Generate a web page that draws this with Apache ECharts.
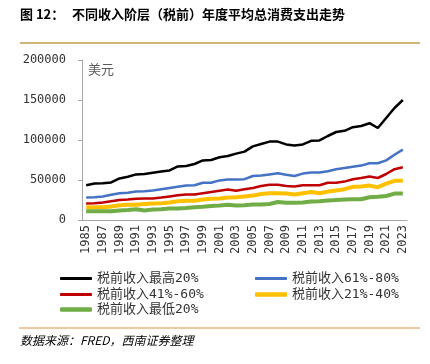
<!DOCTYPE html>
<html><head><meta charset="utf-8">
<script src="https://cdn.jsdelivr.net/npm/echarts@6/dist/echarts.min.js"></script>
<style>html,body{margin:0;padding:0;background:#fff}#c{width:430px;height:364px}</style>
</head><body><div id="c"></div>
<script>
const years = [];
for (let y = 1985; y <= 2023; y++) years.push(String(y));
const top20 = [43500,45500,46000,47000,52000,54000,57000,57500,59000,60500,62000,67000,67500,70000,74500,75000,78500,80000,83000,85500,92000,95000,98000,98000,94500,93000,94500,99000,99500,105000,110000,111500,116000,117500,121000,115000,127500,140000,150000];
const q61_80 = [28000,28500,29500,31500,33500,34000,35500,36000,37000,38500,40000,41500,43000,43500,46500,46500,49500,50500,50500,51000,55000,55500,57000,58500,56500,55000,58000,59500,59500,61000,63500,65000,66500,68000,71000,71000,74500,81500,88000];
const q41_60 = [20500,21000,22000,23500,25000,25500,26500,27000,27000,28000,29500,31000,32000,32000,33500,35000,36500,38000,36500,38500,40000,42500,44000,44000,42500,42000,43500,43500,43500,46500,46500,48000,51000,52500,54500,52500,57500,63500,66000];
const q21_40 = [15500,16000,16000,17000,18500,19000,19000,20000,20500,21000,22000,23500,24000,24000,25500,26500,27000,28000,28500,29500,30500,32500,33500,33500,33000,32000,33500,35000,33500,35500,37000,38500,41500,42000,43000,41000,45500,49000,49000];
const low20 = [11000,11000,11000,11000,12000,12500,13500,12000,13000,13500,14500,14500,15000,16000,16500,17500,18000,19000,18000,18500,19500,19500,20000,22500,21500,21500,22000,23000,23500,24500,25000,25500,26000,26000,28500,29000,30000,33000,33000];
const seriesNames = ['税前收入最高20%','税前收入61%-80%','税前收入41%-60%','税前收入21%-40%','税前收入最低20%'];
const seriesData = [top20, q61_80, q41_60, q21_40, low20];
const colors = ['#000000','#4472C4','#C00000','#FFC000','#70AD47'];
const widths = [2.5,2.5,2.5,4,4];

const mono = '"DejaVu Sans Mono", "Noto Sans CJK SC", monospace';
const chart = echarts.init(document.getElementById('c'), null, {renderer:'canvas'});
const legendPos = [[55,267],[250,267],[55,283],[250,283],[55,298]];
chart.setOption({
  animation:false,
  backgroundColor:'#fff',
  graphic:[
    {type:'text', left:20, top:8, style:{text:'图 12：', font:'bold 13px "Noto Sans CJK SC"', fill:'#000'}},
    {type:'text', left:72, top:8, style:{text:'不同收入阶层（税前）年度平均总消费支出走势', font:'bold 13px "Noto Sans CJK SC"', fill:'#000'}},
    {type:'line', shape:{x1:20,y1:43,x2:420,y2:43}, style:{stroke:'#D2B37A', lineWidth:2}},
    {type:'text', left:88, top:63, style:{text:'美元', font:'13px "Noto Sans CJK SC"', fill:'#595959'}},
    {type:'line', shape:{x1:19,y1:328,x2:420,y2:328}, style:{stroke:'#D8963F', lineWidth:1}},
    {type:'text', left:20, top:334, style:{text:'数据来源：FRED，西南证券整理', font:'italic 12px "Noto Sans CJK SC"', fill:'#000'}}
  ],
  legend: seriesNames.map((n,i)=>({
    data:[n], left:legendPos[i][0], top:legendPos[i][1], itemWidth:32, itemHeight:widths[i]+0.5, itemGap:5,
    textStyle:{fontFamily:mono, fontSize:13, color:'#333'},
    icon:'roundRect'
  })),
  grid:{left:82, right:23, top:60, bottom:144},
  xAxis:{
    type:'category', data:years, boundaryGap:true,
    axisLine:{lineStyle:{color:'#A6A6A6'}},
    axisTick:{interval:1, alignWithLabel:true, lineStyle:{color:'#A6A6A6'}, length:4},
    axisLabel:{interval:1, rotate:90, fontFamily:mono, fontSize:12, color:'#333', margin:5}
  },
  yAxis:{
    type:'value', min:0, max:200000, interval:50000,
    axisLine:{show:true, lineStyle:{color:'#A6A6A6'}},
    axisTick:{show:true, length:4, lineStyle:{color:'#A6A6A6'}},
    splitLine:{show:false},
    axisLabel:{fontFamily:mono, fontSize:12, color:'#333', margin:16, formatter:(v)=>String(v)}
  },
  series: seriesNames.map((n,i)=>({
    name:n, type:'line', data:seriesData[i], symbol:'none', smooth:false,
    lineStyle:{color:colors[i], width:widths[i]}, itemStyle:{color:colors[i]}
  }))
});
</script></body></html>
